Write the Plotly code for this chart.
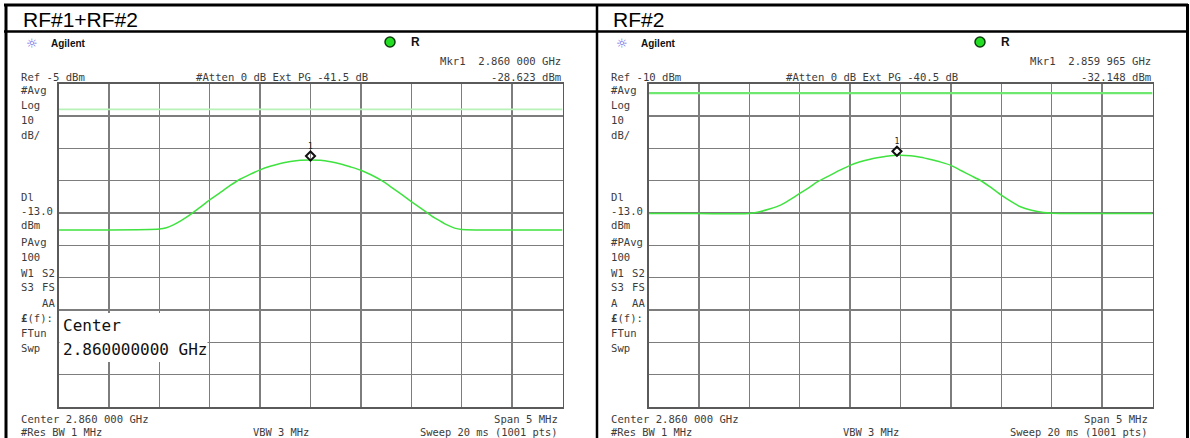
import plotly.graph_objects as go

W, H = 1190, 438

# ---------------- data ----------------
# frequency offset from centre (MHz), span 5 MHz around 2.860 GHz
freq_left = [-2.5, -2.0, -1.5, -1.43, -1.36, -1.28, -1.2, -1.1, -1.0, -0.9, -0.8, -0.7, -0.6,
             -0.5, -0.4, -0.3, -0.2, -0.1, 0.0, 0.1, 0.2, 0.3, 0.4, 0.5, 0.6, 0.7, 0.8,
             0.9, 1.0, 1.1, 1.2, 1.28, 1.36, 1.43, 1.5, 2.0, 2.5]
level_left = [-50.3, -50.3, -50.0, -49.6, -48.7, -47.3, -45.7, -43.4, -41.0, -38.8, -36.6, -34.6, -33.1,
              -31.7, -30.6, -29.7, -29.1, -28.7, -28.62, -28.7, -29.2, -29.9, -30.8, -31.8, -33.2, -34.9, -37.0,
              -39.2, -41.5, -43.7, -45.9, -47.4, -48.8, -49.7, -50.1, -50.3, -50.3]

freq_right = [-2.5, -2.0, -1.5, -1.42, -1.3, -1.19, -1.1, -1.0, -0.9, -0.83, -0.7, -0.6, -0.5,
              -0.4, -0.3, -0.2, -0.1, -0.035, 0.1, 0.2, 0.3, 0.4, 0.5, 0.6, 0.7, 0.79,
              0.9, 1.0, 1.1, 1.19, 1.3, 1.42, 1.5, 2.0, 2.5]
level_right = [-50.2, -50.2, -50.2, -49.8, -48.8, -47.6, -46.0, -44.0, -42.0, -40.5, -38.4, -36.8, -35.3,
               -34.2, -33.4, -32.8, -32.3, -32.15, -32.3, -32.8, -33.5, -34.3, -35.3, -36.9, -38.5, -39.9,
               -42.2, -44.5, -46.5, -48.1, -49.2, -49.9, -50.1, -50.2, -50.2]

ref_left, ref_right = -5, -10          # reference level (dBm)
db_per_div = 10
display_line = -13.0                   # Dl level (dBm)
span_edges = [-2.5, 2.5]
mkr_left = (0.0, -28.623)
mkr_right = (-0.035, -32.148)

titles = ["RF#1+RF#2", "RF#2"]
mkr_text = ["Mkr1  2.860 000 GHz", "Mkr1  2.859 965 GHz"]
mkr_val = ["-28.623 dBm", "-32.148 dBm"]
ref_text = ["Ref -5 dBm", "Ref -10 dBm"]
atten_text = ["#Atten 0 dB Ext PG -41.5 dB", "#Atten 0 dB Ext PG -40.5 dB"]


def px(x):
    return x / W


def py(y):
    return 1 - y / H


fig = go.Figure()

GRID = dict(showgrid=True, gridcolor="#7d7d7d", gridwidth=1.3, zeroline=False,
            showticklabels=False, ticks="", showline=True, mirror=True,
            linecolor="#5a5a5a", linewidth=1.5, fixedrange=True)

panels = [
    dict(dx=0, xa="x", ya="y", freq=freq_left, lvl=level_left, ref=ref_left,
         dlcol="#b8f2b8", dlw=1.6, mkr=mkr_left),
    dict(dx=590, xa="x2", ya="y2", freq=freq_right, lvl=level_right, ref=ref_right,
         dlcol="#6fe86f", dlw=2.2, mkr=mkr_right),
]

layout_axes = {}
for i, p in enumerate(panels):
    sfx = "" if i == 0 else "2"
    layout_axes["xaxis" + sfx] = dict(GRID, domain=[px(58.5 + p["dx"]), px(562.5 + p["dx"])],
                                      range=span_edges, dtick=0.5, tick0=-2.5,
                                      anchor="y" + sfx)
    layout_axes["yaxis" + sfx] = dict(GRID, domain=[py(407), py(83.5)],
                                      range=[p["ref"] - 10 * db_per_div, p["ref"]],
                                      dtick=db_per_div, tick0=p["ref"], anchor="x" + sfx)
    # display line
    fig.add_trace(go.Scatter(x=span_edges, y=[display_line, display_line], xaxis=p["xa"], yaxis=p["ya"],
                             mode="lines", line=dict(color=p["dlcol"], width=p["dlw"]),
                             hoverinfo="skip", showlegend=False))
    # trace
    fig.add_trace(go.Scatter(x=p["freq"], y=p["lvl"], xaxis=p["xa"], yaxis=p["ya"],
                             mode="lines", line=dict(color="#3fe23f", width=1.5, shape="spline",
                                                     smoothing=0.6),
                             showlegend=False))
    # marker
    fig.add_trace(go.Scatter(x=[p["mkr"][0]], y=[p["mkr"][1] + 1.2], xaxis=p["xa"], yaxis=p["ya"],
                             mode="markers+text", text=["1"], textposition="top center",
                             textfont=dict(family="DejaVu Sans Mono", size=8, color="#222"),
                             marker=dict(symbol="diamond-open", size=7, color="#111",
                                         line=dict(width=2, color="#111")),
                             showlegend=False))

MONO = "DejaVu Sans Mono"
TXT = "#3c3c3c"
ann = []


def add(x, y, text, anchor="left", size=10.6, color=TXT, family=MONO):
    ann.append(dict(x=px(x), y=py(y), xref="paper", yref="paper", text=text, showarrow=False,
                    xanchor=anchor, yanchor="middle", font=dict(family=family, size=size, color=color)))


left_labels = [
    [(90, "#Avg"), (105, "Log"), (120, "10"), (135, "dB/"), (197, "Dl"), (211, "-13.0"),
     (224.5, "dBm"), (242, "PAvg"), (257, "100"), (272.5, "W1"), (287, "S3"),
     (318, "<b>£</b>(f):"), (333, "FTun"), (348, "Swp")],
    [(90, "#Avg"), (105, "Log"), (120, "10"), (135, "dB/"), (197, "Dl"), (211, "-13.0"),
     (224.5, "dBm"), (242, "#PAvg"), (257, "100"), (272.5, "W1"), (287, "S3"), (302.5, "A"),
     (318, "<b>£</b>(f):"), (333, "FTun"), (348, "Swp")],
]
right_labels = [(272.5, "S2"), (287, "FS"), (302.5, "AA")]

shapes = []
for i, p in enumerate(panels):
    dx = p["dx"]
    add(21 + dx, 19, titles[i], size=21, color="#000", family="Liberation Sans, Arial")
    add(32 + dx, 43, "☼", anchor="center", size=13, color="#6b6bea", family="DejaVu Sans")
    add(49 + dx, 43, "<b>Agilent</b>", size=10, color="#111", family="Liberation Sans, Arial")
    add(409 + dx, 42, "<b>R</b>", size=12, color="#111", family="Liberation Sans, Arial")
    shapes.append(dict(type="circle", xref="paper", yref="paper",
                       x0=px(385 + dx), x1=px(395 + dx), y0=py(47), y1=py(37),
                       fillcolor="#22dd22", line=dict(color="#0d3d0d", width=1.5)))
    add(563 + dx, 61, mkr_text[i], anchor="right")
    add(563 + dx, 77, mkr_val[i], anchor="right")
    add(19 + dx, 77, ref_text[i])
    add(194 + dx, 77, atten_text[i])
    for yy, t in left_labels[i]:
        add(19 + dx, yy, t)
    for yy, t in right_labels:
        add(57 + dx, yy, t, anchor="right")
    add(19 + dx, 418.5, "Center 2.860 000 GHz")
    add(560 + dx, 418.5, "Span 5 MHz", anchor="right")
    add(19 + dx, 431.5, "#Res BW 1 MHz", size=10.4)
    add(281 + dx, 431.5, "VBW 3 MHz", anchor="center", size=10.4)
    add(560 + dx, 431.5, "Sweep 20 ms (1001 pts)", anchor="right", size=10.4)

# centre-frequency entry box (left panel)
shapes.append(dict(type="rect", xref="paper", yref="paper", layer="above",
                   x0=px(59.5), x1=px(207.5), y0=py(362), y1=py(313),
                   fillcolor="white", line=dict(width=0)))
add(61, 325, "Center", size=16, color="#111")
add(61, 349.5, "2.860000000 GHz", size=16, color="#111")

# table frame
for (x0, y0, x1, y1, w) in [(4, 5, 1188, 5, 3), (4, 31.5, 1188, 31.5, 2.5),
                            (6, 4, 6, 438, 3), (597, 4, 597, 438, 2.5),
                            (1187.5, 4, 1187.5, 438, 3)]:
    shapes.append(dict(type="line", xref="paper", yref="paper", x0=px(x0), x1=px(x1),
                       y0=py(y0), y1=py(y1), line=dict(color="#000", width=w), layer="above"))

fig.update_layout(width=W, height=H, margin=dict(l=0, r=0, t=0, b=0),
                  paper_bgcolor="white", plot_bgcolor="white",
                  showlegend=False, annotations=ann, shapes=shapes, **layout_axes)

fig.write_html("out.html", config={"displayModeBar": False, "staticPlot": True},
               post_script="document.body.style.margin='0';document.body.style.overflow='hidden';")
